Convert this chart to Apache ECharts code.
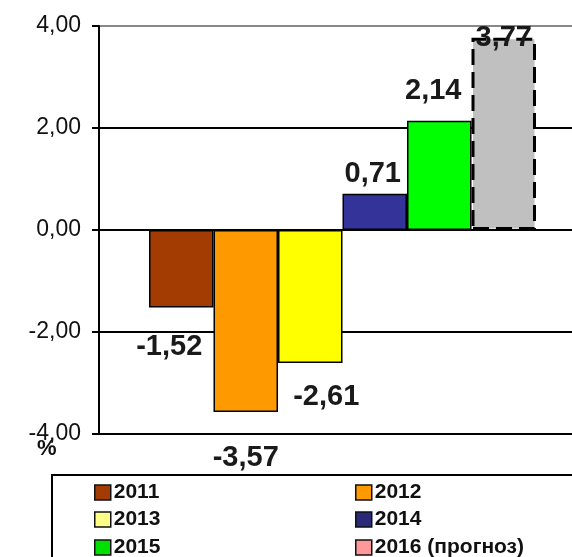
<!DOCTYPE html>
<html>
<head>
<meta charset="utf-8">
<script src="https://cdn.jsdelivr.net/npm/echarts@6/dist/echarts.min.js"></script>
<style>html,body{margin:0;padding:0;background:#fff;}#c{width:572px;height:557px;}</style>
</head>
<body>
<div id="c"></div>
<script>
const categories = [''];
const seriesNames = ['2011', '2012', '2013', '2014', '2015', '2016 (прогноз)'];
const values = [-1.52, -3.57, -2.61, 0.71, 2.14, 3.77];
const colors = ['#A33C02', '#FF9900', '#FFFF00', '#333399', '#00FF00', '#C0C0C0'];
const legendColors = ['#A33C02', '#FF9900', '#FFFF88', '#2A2A78', '#00E000', '#FF9999'];
const yTicks = [-4, -2, 0, 2, 4];

const fmt = v => v.toFixed(2).replace('.', ',');
const font = '"Liberation Sans", Arial, sans-serif';

const labelCfg = [
  { position: 'bottom', distance: 25, offset: [-12, 0] },
  { position: 'bottom', distance: 31, offset: [0, 0] },
  { position: 'bottom', distance: 19, offset: [16, 0] },
  { position: 'top', distance: 5, offset: [-2, 0] },
  { position: 'top', distance: 15, offset: [-6, 0] },
  { position: 'insideTop', distance: 0, offset: [0, -14] }
];

const series = [{
  // empty spacer slot (no value) to place the bar group as in the original
  name: '_spacer',
  type: 'bar',
  data: ['-'],
  barWidth: 14,
  barGap: '0%',
  silent: true,
  itemStyle: { color: 'transparent' }
}].concat(seriesNames.map((name, i) => ({
  name: name,
  type: 'bar',
  data: [values[i]],
  barWidth: 64.5,
  barGap: '0%',
  itemStyle: {
    color: colors[i],
    borderColor: '#000',
    borderWidth: i === 5 ? 3 : 1.5,
    borderType: i === 5 ? [16, 7] : 'solid'
  },
  label: {
    show: true,
    position: labelCfg[i].position,
    distance: labelCfg[i].distance,
    offset: labelCfg[i].offset,
    formatter: p => fmt(p.value),
    fontFamily: font,
    fontWeight: 'bold',
    fontSize: 29,
    color: '#1a1a1a'
  },
  z: 3
})));

// legend layout: column x, row y (top)
const legendPos = [[94, 482], [355, 482], [94, 509], [355, 509], [94, 537], [355, 537]];
const legends = seriesNames.map((n, i) => ({
  orient: 'horizontal',
  left: legendPos[i][0],
  top: legendPos[i][1],
  itemWidth: 16,
  itemHeight: 15,
  icon: 'rect',
  selectedMode: false,
  padding: 0,
  textStyle: { fontFamily: font, fontWeight: 'bold', fontSize: 21, color: '#111', padding: [0, 0, 0, -2] },
  data: [{ name: n, itemStyle: { color: legendColors[i], borderColor: '#111', borderWidth: 1.5, borderType: 'solid' } }]
}));

const chart = echarts.init(document.getElementById('c'), null, { renderer: 'canvas' });
chart.setOption({
  animation: false,
  backgroundColor: '#fff',
  grid: { left: 99, top: 26, bottom: 123, right: 0, containLabel: false },
  xAxis: {
    type: 'category',
    data: categories,
    axisLine: { show: false },
    axisTick: { show: false },
    axisLabel: { show: false }
  },
  yAxis: {
    type: 'value',
    min: yTicks[0],
    max: yTicks[yTicks.length - 1],
    interval: 2,
    axisLine: { show: true, lineStyle: { color: '#000', width: 2 } },
    axisTick: { show: true, length: 7, lineStyle: { color: '#000', width: 2 } },
    axisLabel: {
      formatter: v => fmt(v),
      fontFamily: font,
      fontSize: 23,
      color: '#111',
      margin: 18
    },
    splitLine: { show: true, lineStyle: { color: ['#000', '#000', '#000', '#000', '#888'], width: 2 } }
  },
  legend: legends,
  graphic: [
    {
      type: 'rect',
      shape: { x: 52, y: 475, width: 560, height: 120 },
      style: { fill: 'none', stroke: '#000', lineWidth: 2 },
      z: 0
    },
    {
      type: 'text',
      left: 37,
      top: 438,
      style: { text: '%', fontFamily: font, fontWeight: 'bold', fontSize: 22, fill: '#111' }
    }
  ],
  series: series
});
</script>
</body>
</html>
